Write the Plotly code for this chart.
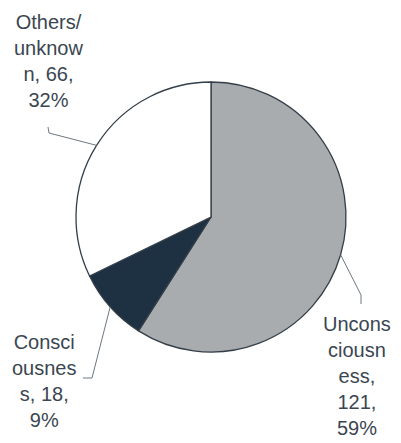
import math
import plotly.graph_objects as go

# Cause categories, counts and colours (clockwise from 12 o'clock)
categories = ["Unconsciousness", "Consciousness", "Others/unknown"]
counts = [121, 18, 66]
slice_colors = ["#a8acae", "#1d3142", "#ffffff"]

# How each category name wraps in its data label
name_lines = [["Uncons", "ciousn", "ess"], ["Consci", "ousnes", "s"], ["Others/", "unknow", "n"]]

W, H = 401, 443
CX, CY, R = 211, 217, 135          # pie centre / radius in pixels
TEXT = "#3a4651"
LEAD = "#6e7882"

total = sum(counts)
pcts = [round(100 * c / total) for c in counts]


def label_text(parts, value, pct):
    lines = list(parts)
    tail = f"{value},"
    if len(lines[-1] + ", " + tail) <= 6:
        lines[-1] = lines[-1] + ", " + tail
    else:
        lines[-1] = lines[-1] + ","
        lines.append(tail)
    lines.append(f"{pct}%")
    return "<br>".join(lines)


def px(x, y):
    return x / W, 1 - y / H


def edge_point(i):
    start = sum(counts[:i]) / total
    mid = (start + counts[i] / total / 2) * 2 * math.pi
    return CX + R * math.sin(mid), CY - R * math.cos(mid)


fig = go.Figure(go.Pie(
    labels=categories,
    values=counts,
    sort=False,
    direction="clockwise",
    rotation=0,
    textinfo="none",
    hoverinfo="label+value+percent",
    marker=dict(colors=slice_colors, line=dict(color="#343e48", width=1.3)),
    domain=dict(x=[(CX - R) / W, (CX + R) / W], y=[1 - (CY + R) / H, 1 - (CY - R) / H]),
    showlegend=False,
))

# Label centres and leader-line elbows (pixels)
label_pos = [(357, 376), (44, 381), (48, 61)]
elbows = [[(361, 295), (361, 304)], [(92, 378), (83, 378)], [(49, 133), (48, 127)]]

annotations = []
shapes = []
for i in range(len(categories)):
    lx, ly = label_pos[i]
    ax_, ay_ = px(lx, ly)
    annotations.append(dict(
        x=ax_, y=ay_, xref="paper", yref="paper", showarrow=False,
        text=label_text(name_lines[i], counts[i], pcts[i]),
        font=dict(family="Liberation Sans, Arial, sans-serif", size=20, color=TEXT),
        align="center", xanchor="center", yanchor="middle",
    ))
    pts = [edge_point(i)] + elbows[i]
    path = "M " + " L ".join(f"{px(x, y)[0]},{px(x, y)[1]}" for x, y in pts)
    shapes.append(dict(type="path", xref="paper", yref="paper", path=path,
                       line=dict(color=LEAD, width=1)))

fig.update_layout(
    width=W, height=H,
    margin=dict(l=0, r=0, t=0, b=0),
    paper_bgcolor="#ffffff",
    plot_bgcolor="#ffffff",
    annotations=annotations,
    shapes=shapes,
)

fig.write_html("out.html")
